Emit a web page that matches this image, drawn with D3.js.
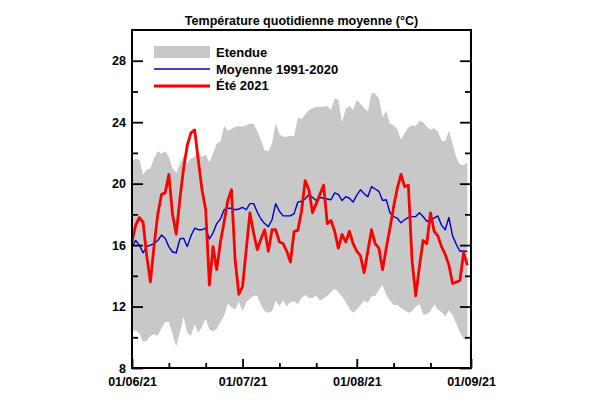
<!DOCTYPE html>
<html>
<head>
<meta charset="utf-8">
<script src="https://cdn.jsdelivr.net/npm/d3@7"></script>
<style>
body{margin:0;background:#fff;}
text{font-family:"Liberation Sans",Arial,sans-serif;font-weight:bold;}
</style>
</head>
<body>
<svg id="chart" width="600" height="401"></svg>
<script>
const startDate = "2021-06-01";
const endDate = "2021-09-01";
const title = "Température quotidienne moyenne (°C)";
const legendLabels = ["Etendue", "Moyenne 1991-2020", "Été 2021"];
const yTicks = [8, 12, 16, 20, 24, 28];
const yMinorTicks = [10, 14, 18, 22, 26];

const rangeHigh = [21.5,21.6,21.55,20.6,20.9,21.0,21.65,22.1,21.95,22.1,21.75,21.0,20.7,21.3,21.8,21.35,21.65,21.75,22.0,21.75,
21.9,21.4,22.0,22.6,22.75,23.75,23.45,23.55,23.7,23.75,23.7,23.8,23.9,23.9,23.4,22.85,22.15,22.1,22.6,23.95,
23.2,23.05,23.05,23.1,23.1,24.3,24.2,24.5,24.8,24.9,25.0,25.0,25.0,25.05,24.8,25.55,25.45,24.0,24.85,25.05,
24.8,25.45,25.2,24.9,24.7,25.9,25.85,25.55,24.3,24.75,23.9,23.8,23.55,22.85,23.3,23.65,23.8,23.75,24.1,24.0,
23.7,23.5,23.6,23.4,22.8,22.75,23.45,22.6,21.7,21.25,21.2,21.4];
const rangeLow = [10.4,10.45,10.25,9.7,9.75,10.1,10.2,10.1,10.6,11.0,11.0,10.2,9.4,10.35,11.3,10.3,10.1,10.85,10.3,10.7,
11.2,10.5,10.4,10.55,11.0,11.4,12.2,11.95,11.8,12.3,11.7,12.3,12.5,12.7,12.7,12.1,11.7,11.6,11.7,12.4,
12.0,12.4,12.0,12.3,12.35,12.15,12.55,12.75,12.55,12.55,12.7,12.4,12.5,12.7,12.95,13.15,12.95,12.65,12.3,11.85,
11.6,11.8,12.1,12.4,12.25,12.65,12.7,13.1,13.4,12.75,12.4,12.1,12.1,11.9,11.75,11.6,11.7,12.0,12.15,11.5,
11.5,11.7,12.15,11.8,11.65,11.35,11.75,11.45,10.9,10.3,9.9,9.8];
const normal = [15.9,16.3,16.0,15.5,15.9,16.0,16.1,16.3,16.65,16.45,15.9,15.55,15.5,16.4,16.45,15.9,16.6,17.1,17.0,17.0,
17.1,16.4,16.8,17.4,17.7,18.3,18.4,18.4,18.3,18.35,18.45,18.3,18.7,18.7,18.15,17.7,17.4,17.2,17.65,18.7,
18.2,17.9,17.9,17.9,18.05,18.8,18.85,19.0,19.3,19.1,18.9,19.1,19.05,19.0,18.95,19.4,19.3,18.9,19.15,19.05,
18.8,19.25,19.6,19.35,19.15,19.8,19.65,19.5,18.9,18.95,18.1,17.85,17.75,17.45,17.65,17.8,17.85,17.86,18.1,17.86,
17.55,17.6,17.75,17.9,17.3,17.0,17.8,16.6,16.05,15.6,15.62,15.58];
const summer2021 = [16.2,17.3,17.8,17.5,15.3,13.6,16.0,18.0,19.3,19.4,20.6,18.0,16.7,19.0,21.0,22.5,23.3,23.5,21.5,19.6,
18.3,13.4,15.9,14.4,16.2,17.5,18.9,19.6,15.0,12.8,13.3,15.7,18.1,16.8,15.7,16.4,17.0,15.6,17.0,17.0,
16.2,16.1,15.6,14.9,16.9,16.95,18.2,20.2,19.6,18.1,18.7,19.3,19.9,17.4,17.6,16.9,15.8,16.7,16.2,16.9,
16.1,15.6,15.3,14.2,15.6,17.0,16.1,15.8,14.4,15.8,17.1,18.5,19.7,20.6,19.8,19.9,15.0,12.7,14.6,16.3,
16.1,18.1,16.9,16.6,15.9,15.4,14.7,13.5,13.6,13.7,15.5,14.7];

const svg = d3.select("#chart");
const mLeft = 132, mRight = 471, mTop = 30, mBottom = 368;
const parse = d3.timeParse("%Y-%m-%d");
const t0 = parse(startDate), t1 = parse(endDate);
const dates = summer2021.map((_, i) => d3.timeDay.offset(t0, i));

const x = d3.scaleTime().domain([t0, t1]).range([mLeft, mRight]);
const y = d3.scaleLinear().domain([8, 30]).range([mBottom, mTop]);

const band = dates.map((d, i) => ({d, lo: rangeLow[i], hi: rangeHigh[i]}));
svg.append("path").datum(band)
  .attr("fill", "#c8c8c8")
  .attr("d", d3.area().x(p => x(p.d)).y0(p => y(p.lo)).y1(p => y(p.hi)));

const line = d3.line().x(p => x(p[0])).y(p => y(p[1]));
svg.append("path").datum(dates.map((d, i) => [d, normal[i]]))
  .attr("fill", "none").attr("stroke", "#0000cc").attr("stroke-width", 1.4)
  .attr("stroke-linejoin", "round").attr("d", line);
svg.append("path").datum(dates.map((d, i) => [d, summer2021[i]]))
  .attr("fill", "none").attr("stroke", "#ff0000").attr("stroke-width", 2.8)
  .attr("stroke-linejoin", "round").attr("d", line);

// axes
const months = d3.timeMonth.range(t0, d3.timeDay.offset(t1, 1));
const minorDates = [];
d3.timeMonth.range(t0, t1).forEach(m => { minorDates.push(d3.timeDay.offset(m, 10), d3.timeDay.offset(m, 20)); });

const fmt = d3.timeFormat("%d/%m/%y");
const gx = svg.append("g").attr("transform", `translate(0,${mBottom})`)
  .call(d3.axisBottom(x).tickValues(months).tickFormat(fmt).tickSizeInner(-9).tickSizeOuter(0).tickPadding(9));
const gxm = svg.append("g").attr("transform", `translate(0,${mBottom})`)
  .call(d3.axisBottom(x).tickValues(minorDates).tickFormat("").tickSizeInner(-5).tickSizeOuter(0));
const gy = svg.append("g").attr("transform", `translate(${mLeft},0)`)
  .call(d3.axisLeft(y).tickValues(yTicks).tickSizeInner(-11).tickSizeOuter(0).tickPadding(6));
const gym = svg.append("g").attr("transform", `translate(${mLeft},0)`)
  .call(d3.axisLeft(y).tickValues(yMinorTicks).tickFormat("").tickSizeInner(-6).tickSizeOuter(0));
const gyr = svg.append("g").attr("transform", `translate(${mRight},0)`)
  .call(d3.axisRight(y).tickValues(yTicks).tickFormat("").tickSizeInner(-11).tickSizeOuter(0));
const gyrm = svg.append("g").attr("transform", `translate(${mRight},0)`)
  .call(d3.axisRight(y).tickValues(yMinorTicks).tickFormat("").tickSizeInner(-6).tickSizeOuter(0));
[gx, gxm, gy, gym, gyr, gyrm].forEach(g => {
  g.select(".domain").remove();
  g.selectAll("line").attr("stroke", "#000").attr("stroke-width", 1.8);
  g.selectAll("text").attr("font-size", 12.5).attr("fill", "#000")
    .style("font-family", "'Liberation Sans', Arial, sans-serif").style("font-weight", "bold");
});

svg.append("rect").attr("x", mLeft).attr("y", mTop).attr("width", mRight - mLeft).attr("height", mBottom - mTop)
  .attr("fill", "none").attr("stroke", "#000").attr("stroke-width", 2);

svg.append("text").attr("x", (mLeft + mRight) / 2).attr("y", 25).attr("text-anchor", "middle")
  .attr("font-size", 12.5).text(title);

// legend
const lg = svg.append("g");
lg.append("rect").attr("x", 154).attr("y", 46).attr("width", 56).attr("height", 12).attr("fill", "#c8c8c8");
lg.append("line").attr("x1", 154).attr("x2", 210).attr("y1", 69).attr("y2", 69).attr("stroke", "#0000cc").attr("stroke-width", 1.4);
lg.append("line").attr("x1", 154).attr("x2", 210).attr("y1", 86).attr("y2", 86).attr("stroke", "#ff0000").attr("stroke-width", 2.8);
[57, 74, 90].forEach((yy, i) => {
  lg.append("text").attr("x", 216).attr("y", yy).attr("font-size", 13).text(legendLabels[i]);
});
</script>
</body>
</html>
